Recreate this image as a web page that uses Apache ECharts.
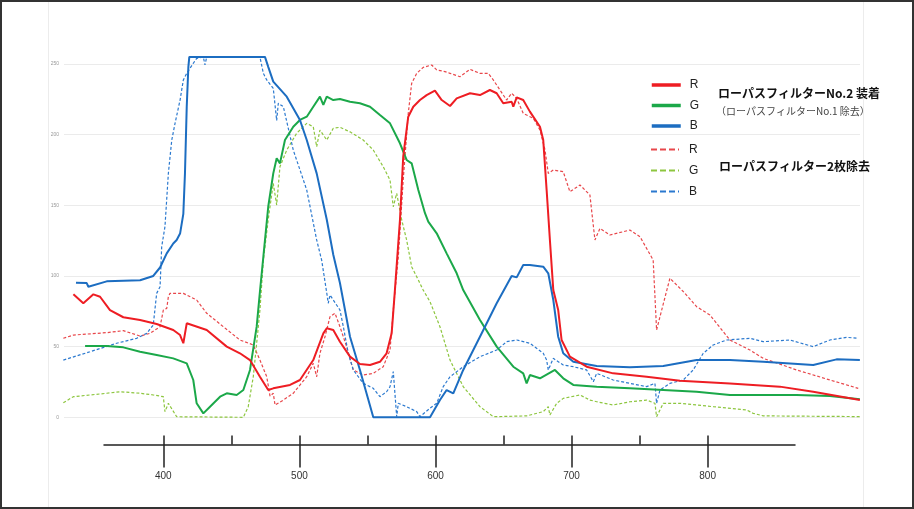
<!DOCTYPE html>
<html><head><meta charset="utf-8">
<script src="https://cdn.jsdelivr.net/npm/echarts@6/dist/echarts.min.js"></script>
<style>html,body{margin:0;padding:0;background:#fff}#c{width:914px;height:509px}</style>
</head><body><div id="c"></div>
<script>
// ---- data (x: wavelength nm, y: value) ----
const yTickInterval = 50;
const xMajorTicks = [400, 500, 600, 700, 800];
const xMinorTicks = [400, 450, 500, 550, 600, 650, 700, 750, 800];
const titleNo2 = 'ローパスフィルターNo.2 装着';
const subNo2 = '（ローパスフィルターNo.1 除去）';
const titleRemoved = 'ローパスフィルター2枚除去';

const solidR = [[333.9,87],[341.2,80.7],[348.6,87],[353.5,85.3],[360.8,75.9],[370.6,70.8],[382.9,68.9],[395.1,66],[407.3,61.8],[412.3,58.2],[414.7,52.4],[417.2,66.5],[431.9,61.8],[446.6,50],[456.3,45.3],[463.7,40.5],[471,28.7],[477.1,19.3],[480.8,20.5],[493.1,22.9],[500.4,26.4],[510.2,40.5],[517.6,59.4],[520.1,63],[524.9,61.8],[529.8,53.5],[537.2,42.9],[544.5,37.7],[551.9,37],[559.2,39.3],[564.1,45.3],[567.8,59.4],[570.2,90],[573.9,139.6],[576.3,184.4],[580,212.7],[583.7,219.8],[588.6,224.5],[593.5,228],[599.6,231.1],[604.6,224.5],[610.7,220.3],[615.6,225.7],[625.4,229.3],[632.7,228],[640,231.6],[645,229.3],[649.8,222.2],[656,223.3],[657.2,219.8],[659.7,226.4],[664.5,224.5],[669.4,216.3],[676.8,205.6],[679.2,196.2],[681.7,160.8],[684.1,125.5],[686.6,90],[690.2,75.9],[692.7,54.7],[698.8,42.9],[711.1,35.8],[730.6,31.1],[755.2,28.7],[779.7,25.9],[816.4,24],[853.1,21.7],[877.6,18.1],[911.9,12.2]];

const solidG = [[342.5,50.5],[358.4,50.5],[370.6,49.5],[382.9,46.4],[395.1,44.1],[407.3,41.7],[417.2,38.2],[422,26.4],[424.5,9.9],[429.4,2.8],[434.3,7.5],[441.7,14.6],[446.6,17],[453.9,15.8],[458.8,19.3],[463.7,33.5],[468.6,64.1],[471,89],[473.5,113.6],[477.1,149],[480.8,172.6],[483.3,183.3],[485.7,179.7],[489.4,196.2],[495.5,205.6],[500.4,210.4],[505.4,212.7],[510.2,219.8],[515.1,226.9],[517.6,221],[520.1,226.9],[524.9,224.5],[529.8,225.2],[537.2,223.3],[544.5,222.2],[551.9,219.8],[559.2,213.9],[566.6,208],[573.9,193.9],[578.8,182.1],[582.5,179.7],[587.4,160.8],[592.3,144.4],[594.7,138.4],[600.9,130.2],[608.2,116],[615.6,101.9],[620.4,90],[632.7,68.9],[645,50],[657.2,35.8],[664.5,31.1],[667,24],[669.4,29.9],[676.8,27.6],[687.8,33.5],[693.9,27.6],[701.3,22.9],[718.5,21.7],[742.9,20.5],[767.4,19.3],[791.9,18.1],[816.4,15.8],[865.4,15.8],[889.9,15.1],[911.9,12.7]];

const solidB = [[335.8,95.2],[343.7,95],[344.9,92.4],[358.4,96.2],[382.9,97],[392.6,100],[397.6,106],[402.5,116],[407.3,123],[409.8,125.5],[412.3,130],[414.7,144],[415.9,172.6],[417.2,219.8],[418.4,248],[419.1,255],[474.7,255],[477.1,248],[480.8,237.5],[490.7,226.9],[500.4,210.4],[505.4,196.2],[512.7,172.6],[520.1,140],[524.9,115],[529.8,95],[537.2,57],[544.5,33.5],[554.3,0],[596,0],[603.3,12.2],[608.2,19.3],[613.1,17],[620.4,33.5],[632.7,57],[645,80.7],[656,100],[659.7,99],[664.5,107.8],[669.4,107.8],[679.2,106.6],[682.9,101.9],[686.6,83],[690.2,57],[693.9,45.3],[701.3,39.3],[718.5,36.3],[742.9,35.4],[767.4,36.3],[791.9,40.5],[816.4,40.5],[840.9,39.3],[877.6,37],[894.8,41],[911.9,40.5]];

const dashR = [[326.5,55.9],[333.9,58.2],[358.4,59.9],[370.6,61.3],[382.9,57.5],[390.2,59.4],[397.6,64.1],[400,75.9],[402.5,77.1],[403.7,85.3],[404.9,87.7],[414.7,87.7],[424.5,83],[431.9,73.6],[444.1,64.1],[456.3,54.7],[466.1,51.2],[471,40.5],[476,28.7],[478.4,15],[480.8,17],[482.1,8.7],[488.2,12.2],[495.5,17],[505.4,28.7],[510.2,38.2],[512.7,28.7],[515.1,45.3],[518.8,57],[522.5,71.2],[526.2,73.6],[529.8,64.1],[534.7,50],[539.6,33.5],[546.9,29.9],[554.3,31.1],[561.6,35.8],[566.6,47.6],[569,75.9],[572.7,113.6],[576.3,167.9],[580,215],[582.5,236.3],[586.2,243.4],[591,247.6],[597.2,249.3],[600.9,245.8],[607,244.6],[610.7,243.4],[618,241],[625.4,246.2],[632.7,243.4],[638.8,243.4],[642.5,238.7],[647.4,231.6],[652.3,224.5],[656,229.3],[659.7,225.7],[664.5,215],[671.9,211.6],[676.8,203.3],[680.5,189.2],[682.9,172.6],[686.6,175],[693.9,173.8],[698.8,159.6],[706.2,164.4],[713.5,157.3],[717.2,125.5],[720.9,133.7],[728.2,129],[742.9,132.5],[750.3,127.8],[760,111.3],[762.5,61.8],[765,71.2],[772.3,98.4],[782.1,89],[791.9,78.3],[801.7,72.4],[816.4,54.7],[831.1,47.6],[840.9,41.7],[865.4,33.5],[889.9,26.4],[910.7,20.5]];

const dashG = [[326.5,10.3],[333.9,14.6],[346.1,15.8],[358.4,17],[368.2,18.1],[382.9,17],[392.6,15.8],[400,14.6],[401.2,4],[403.7,9.9],[409.8,0.4],[458.8,0],[462.4,7.5],[466.1,28.7],[468.6,52.4],[471,75.9],[473.5,111],[477.1,140],[480.8,165.6],[483.3,150.2],[485.7,177.3],[490.7,189.1],[498,201],[505.4,208],[510.2,205.6],[512.7,191.5],[515.1,203.3],[520.1,196.2],[524.9,204.5],[529.8,205.2],[537.2,202],[546.9,196.2],[554.3,189.1],[561.6,177.3],[566.6,167.9],[569,149],[571.5,158.5],[575.2,139.6],[578.8,125.5],[582.5,106.6],[587.4,97.2],[591,90],[596,81.8],[603.3,64.1],[610.7,40.5],[620.4,21.7],[632.7,7.5],[642.5,0.4],[667,1],[679.2,4],[682.9,7.5],[684.1,1.6],[689.1,9.9],[693.9,13.4],[706.2,15.8],[713.5,12.2],[718.5,11],[730.6,8.7],[742.9,11],[755.2,12.2],[761.3,9.9],[762.5,0.4],[767.4,9.9],[779.7,9.9],[804.1,7.5],[828.7,5.2],[833.5,2.8],[840.9,1],[911.9,0.5]];

const dashB = [[326.5,40.5],[346.1,46.4],[365.7,52.4],[380.4,55.9],[387.8,59.4],[392.6,65.3],[395.1,87.7],[397.6,92.4],[398.8,120.7],[401.2,134.9],[403.7,172.6],[406.2,196.2],[408.6,208],[412.3,224.5],[414.7,238.7],[417.2,243.4],[422,250.5],[424.5,254],[429.4,255],[430.6,249.3],[431.9,255],[471,255],[473.5,243.4],[476,238.7],[480.8,232.8],[483.3,210],[484.5,222.2],[488.2,219.8],[495.5,189.1],[505.4,160.8],[512.7,125.5],[516.4,111],[520.1,88],[521.2,80.7],[522.5,86.5],[529.8,75.9],[532.3,64.1],[535.9,45.3],[539.6,33.5],[546.9,24],[554.3,20.5],[559.2,14.6],[564.1,18.1],[566.6,21.7],[569,32.3],[571.5,0.4],[572.7,9.9],[578.8,7.5],[586.2,4],[588.6,0.5],[596,6.4],[600.9,9.9],[605.7,21.7],[610.7,28.7],[620.4,35.8],[632.7,42.9],[645,47.6],[652.3,53.5],[659.7,54.7],[669.4,52.4],[679.2,45.3],[681.7,40.5],[682.9,33.5],[686.6,41.7],[693.9,37],[701.3,35.8],[711.1,33.5],[716,25.2],[718.5,31.1],[730.6,26.4],[742.9,24],[755.2,21.7],[761.3,24],[762.5,9.9],[765,19.3],[772.3,24],[782.1,26.4],[789.4,33.5],[796.8,45.3],[804.1,51.2],[814,54.7],[831.1,55.9],[840.9,53.5],[860.5,54.7],[877.6,50],[889.9,54.7],[902.1,56.6],[910.7,55.9]];

// ---- chart ----
const chart = echarts.init(document.getElementById('c'), null, {renderer: 'canvas'});
const FONT = "'Liberation Sans', 'Noto Sans', sans-serif";
const JP = "'Noto Sans CJK JP', 'Noto Sans', sans-serif";

function mk(name, data, color, width, dashed, z) {
  return {
    name: name, type: 'line', data: data, xAxisIndex: 0, yAxisIndex: 0,
    symbol: 'none', showSymbol: false, clip: false, silent: true, z: z,
    lineStyle: {color: color, width: width, type: dashed ? [3, 2] : 'solid'},
    itemStyle: {color: color}
  };
}

const tickStyle = {color: '#222', width: 1.5};
const noSymbol = {color: 'rgba(0,0,0,0)', borderWidth: 0, opacity: 0};

const option = {
  animation: false,
  backgroundColor: '#fff',
  grid: [
    {left: 64, right: 54, top: 64, bottom: 91.7},
    {left: 104, right: 119, top: 420, height: 24.5}
  ],
  xAxis: [
    {gridIndex: 0, type: 'value', min: 327, max: 912, show: false},
    {gridIndex: 1, type: 'value', position: 'bottom', min: 356.4, max: 864.2,
     axisLine: {lineStyle: tickStyle},
     axisTick: {inside: true, length: 9, customValues: xMinorTicks, lineStyle: tickStyle},
     axisLabel: {show: false}, splitLine: {show: false}},
    {gridIndex: 1, type: 'value', position: 'bottom', min: 356.4, max: 864.2,
     axisLine: {show: false},
     axisTick: {inside: false, length: 23, customValues: xMajorTicks, lineStyle: tickStyle},
     axisLabel: {customValues: xMajorTicks, margin: 27, fontSize: 10, color: '#333', fontFamily: FONT},
     splitLine: {show: false}}
  ],
  yAxis: [
    {gridIndex: 0, type: 'value', min: 0, max: 250, interval: yTickInterval,
     axisLine: {show: false}, axisTick: {show: false},
     axisLabel: {fontSize: 5, color: '#999', margin: 5, fontFamily: FONT},
     splitLine: {lineStyle: {color: '#ebebeb', width: 1}}},
    {gridIndex: 1, type: 'value', show: false}
  ],
  legend: [
    {data: ['R', 'G', 'B'], orient: 'vertical', left: 650, top: 79, padding: 0,
     itemWidth: 29, itemHeight: 10, itemGap: 8.5,
     lineStyle: {width: 3.5}, itemStyle: noSymbol,
     textStyle: {fontSize: 12, color: '#222', fontFamily: FONT, padding: [0, 0, 0, 4]}},
    {data: ['R ', 'G ', 'B '], orient: 'vertical', left: 650, top: 143.5, padding: 0,
     itemWidth: 28, itemHeight: 10, itemGap: 9,
     lineStyle: {width: 2, type: [6, 3]}, itemStyle: noSymbol,
     formatter: function (n) { return n.trim(); },
     textStyle: {fontSize: 12, color: '#222', fontFamily: FONT, padding: [0, 0, 0, 5]}}
  ],
  graphic: [
    {type: 'rect', shape: {x: 1, y: 1, width: 912, height: 507}, style: {fill: 'none', stroke: '#333', lineWidth: 2}, silent: true, z: 100},
    {type: 'line', shape: {x1: 48.5, y1: 2, x2: 48.5, y2: 507}, style: {stroke: '#ececec', lineWidth: 1}, silent: true},
    {type: 'line', shape: {x1: 863.5, y1: 2, x2: 863.5, y2: 507}, style: {stroke: '#ececec', lineWidth: 1}, silent: true},
    {type: 'text', left: 718, top: 87, style: {text: titleNo2, font: "bold 12px " + JP, fill: '#111'}},
    {type: 'text', left: 716, top: 106, style: {text: subNo2, font: "10px " + JP, fill: '#444'}},
    {type: 'text', left: 719, top: 160, style: {text: titleRemoved, font: "bold 12px " + JP, fill: '#111'}}
  ],
  series: [
    mk('R ', dashR, '#e8474b', 1.2, true, 2),
    mk('G ', dashG, '#8dc63f', 1.2, true, 2),
    mk('B ', dashB, '#2b79cf', 1.2, true, 2),
    mk('G', solidG, '#1ba849', 2, false, 3),
    mk('B', solidB, '#1c6dc1', 2, false, 3),
    mk('R', solidR, '#ee1d23', 2, false, 4)
  ]
};
chart.setOption(option);
</script>
</body></html>
